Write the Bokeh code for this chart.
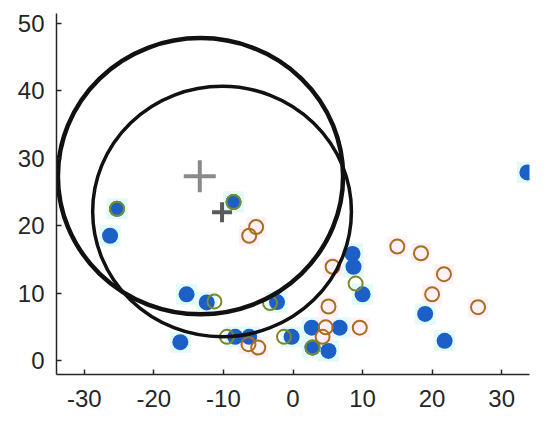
from bokeh.plotting import figure
from bokeh.models import Range1d, FixedTicker, CustomJSTickFormatter
from bokeh.embed import file_html
from bokeh.resources import INLINE

# data
blue_x = [-25.3, -26.3, -15.3, -12.4, -16.2, -8.3, -6.3, -8.55, 8.55, 8.7, 10.0, -2.3, 2.7, 6.7, -0.2, 2.8, 5.1, 19.0, 21.8, 33.7]
blue_y = [22.5, 18.5, 9.8, 8.6, 2.7, 3.5, 3.5, 23.5, 15.8, 13.9, 9.8, 8.65, 4.85, 4.85, 3.5, 1.9, 1.4, 6.9, 2.9, 27.9]

brown_x = [-6.4, -5.0, -5.3, -6.3, 5.7, 5.1, 4.7, 9.6, 4.25, 15.0, 18.4, 21.7, 20.0, 26.6]
brown_y = [2.4, 1.9, 19.8, 18.5, 13.9, 8.0, 4.9, 4.85, 3.5, 16.9, 15.9, 12.8, 9.8, 7.9]

olive_x = [-11.3, -9.5, -1.3, -3.3, 9.0, 2.8, -25.3, -8.55]
olive_y = [8.75, 3.5, 3.5, 8.5, 11.4, 1.9, 22.5, 23.5]

circle_cx = [-13.3, -10.2]
circle_cy = [27.35, 22.1]
circle_r = [20.5, 18.6]
circle_lw = [4.5, 3.5]

cross_x = [-13.4, -10.2]
cross_y = [27.35, 22.0]
cross_size = [32, 20]
cross_color = ["#8a8a8a", "#5a5a5a"]

x_ticks = [-30, -20, -10, 0, 10, 20, 30]
y_ticks = [0, 10, 20, 30, 40, 50]

p = figure(width=542, height=417, output_backend="svg", toolbar_location=None,
           x_range=Range1d(-34, 34), y_range=Range1d(-2.1, 51.5),
           min_border_left=56, min_border_right=13, min_border_top=13, min_border_bottom=43)
p.outline_line_color = None
p.grid.visible = False
p.background_fill_color = "white"

for ax in (p.xaxis, p.yaxis):
    ax.major_tick_in = 5
    ax.major_tick_out = 0
    ax.minor_tick_line_color = None
    ax.axis_line_color = "#262626"
    ax.axis_line_width = 1.5
    ax.major_tick_line_color = "#262626"
    ax.major_tick_line_width = 1.5
    ax.major_label_text_font = "Liberation Sans"
    ax.major_label_text_font_size = "24px"
    ax.major_label_text_color = "#262626"
    ax.formatter = CustomJSTickFormatter(code="return String(tick);")
p.xaxis.ticker = FixedTicker(ticks=x_ticks)
p.yaxis.ticker = FixedTicker(ticks=y_ticks)
p.xaxis.major_label_standoff = 15
p.yaxis.major_label_standoff = 12

# faint halos
p.scatter(blue_x, blue_y, marker="square", size=21, fill_color="#e2fafa", line_color=None)
p.scatter(brown_x, brown_y, marker="square", size=20, fill_color="#fdf0f6", line_color=None)

# crosses
for cx, cy, s, c in zip(cross_x, cross_y, cross_size, cross_color):
    p.scatter([cx], [cy], marker="cross", size=s, line_color=c, line_width=4)

# points
p.scatter(blue_x, blue_y, marker="circle", size=16, fill_color="#1c5fc7", line_color=None)
p.scatter(brown_x, brown_y, marker="circle", size=14, fill_color=None, line_color="#a86f1f", line_width=2)
p.scatter(olive_x, olive_y, marker="circle", size=14, fill_color=None, line_color="#7d8a2a", line_width=2)

# big circles
for cx, cy, r, lw in zip(circle_cx, circle_cy, circle_r, circle_lw):
    p.ellipse(x=[cx], y=[cy], width=[2 * r], height=[2 * r], fill_color=None,
              line_color="#111111", line_width=lw)

open("out.html", "w").write(file_html(p, INLINE))
